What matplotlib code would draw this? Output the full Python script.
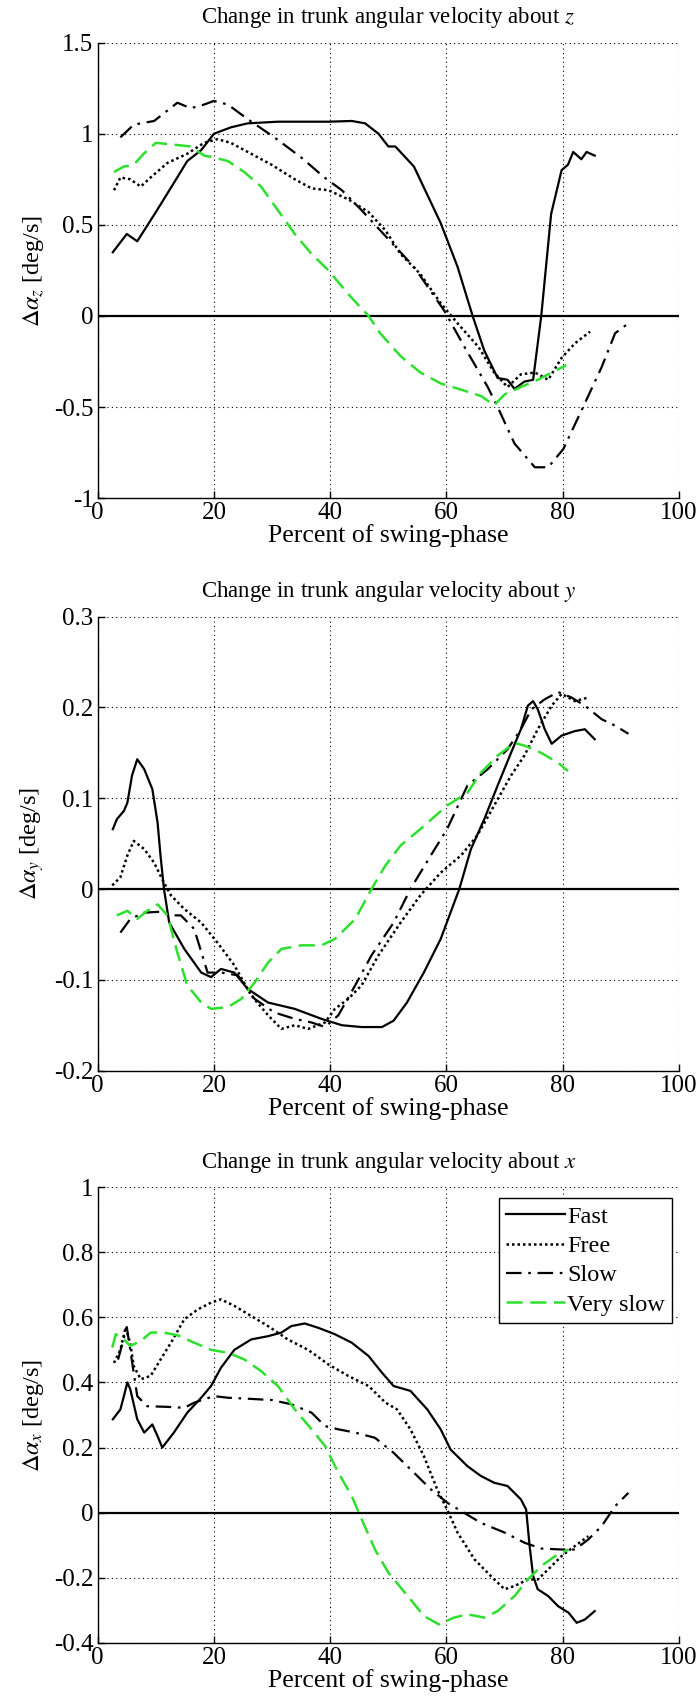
import numpy as np
import matplotlib
matplotlib.use("Agg")
import matplotlib.pyplot as plt
from matplotlib.ticker import FormatStrFormatter

plt.rcParams['font.family'] = ['Liberation Serif', 'DejaVu Serif']
plt.rcParams['mathtext.fontset'] = 'stix'
plt.rcParams['axes.unicode_minus'] = False

GREEN = '#2ee02e'

# ---- trunk angular velocity about z ----
z_fast_x = [2.6, 5.0, 6.8, 10.0, 13.1, 15.4, 17.8, 20.0, 22.9, 25.8, 31.0, 39.7, 43.7, 46.0, 48.3,
            50.0, 51.2, 54.4, 59.0, 61.9, 64.5, 66.5, 68.8, 70.5, 71.7, 73.4, 74.9, 76.3, 78.0,
            79.8, 80.9, 81.8, 83.2, 84.1, 85.5]
z_fast_y = [0.35, 0.45, 0.41, 0.57, 0.73, 0.85, 0.91, 1.00, 1.035, 1.057, 1.066, 1.066, 1.07, 1.057, 1.0,
            0.93, 0.93, 0.82, 0.51, 0.27, 0.0, -0.19, -0.34, -0.35, -0.40, -0.36, -0.35, 0.0, 0.56,
            0.80, 0.83, 0.90, 0.86, 0.90, 0.88]
z_free_x = [2.8, 3.9, 5.6, 7.4, 9.1, 12.0, 15.4, 18.3, 20.6, 22.9, 26.4, 29.9, 33.9, 36.8, 39.7,
            43.1, 46.6, 49.5, 52.1, 55.5, 59.0, 61.9, 65.5, 68.2, 70.5, 72.8, 75.2, 77.5, 79.8,
            82.1, 84.7]
z_free_y = [0.69, 0.76, 0.75, 0.71, 0.76, 0.84, 0.89, 0.95, 0.97, 0.95, 0.89, 0.83, 0.75, 0.70, 0.69,
            0.64, 0.57, 0.47, 0.34, 0.23, 0.07, -0.04, -0.17, -0.31, -0.39, -0.32, -0.31, -0.35, -0.23,
            -0.15, -0.086]
z_slow_x = [3.9, 6.2, 9.7, 13.7, 16.0, 18.3, 20.0, 22.4, 25.8, 30.4, 35.0, 39.0, 42.0, 45.4, 48.3,
            54.4, 59.6, 63.1, 67.1, 68.8, 71.7, 75.2, 77.5, 80.1, 83.2, 86.7, 89.0, 91.3]
z_slow_y = [0.98, 1.05, 1.07, 1.17, 1.14, 1.16, 1.18, 1.16, 1.08, 0.98, 0.87, 0.76, 0.69, 0.58, 0.48,
            0.27, 0.03, -0.17, -0.39, -0.50, -0.70, -0.83, -0.83, -0.73, -0.52, -0.28, -0.095, -0.04]
z_vslow_x = [2.8, 4.5, 6.2, 7.9, 10.0, 13.1, 16.0, 18.3, 20.0, 22.4, 25.2, 28.1, 31.0, 33.9, 36.8,
             39.7, 43.1, 46.6, 48.6, 52.1, 55.5, 59.0, 63.1, 66.0, 68.2, 70.0, 72.8, 75.7, 78.1, 80.6]
z_vslow_y = [0.79, 0.82, 0.83, 0.89, 0.95, 0.94, 0.93, 0.88, 0.87, 0.85, 0.79, 0.71, 0.58, 0.45, 0.34,
             0.25, 0.12, 0.0, -0.095, -0.22, -0.31, -0.37, -0.41, -0.44, -0.49, -0.43, -0.39, -0.35, -0.31, -0.27]

# ---- trunk angular velocity about y ----
y_fast_x = [2.6, 3.3, 4.5, 5.1, 5.9, 6.8, 8.0, 9.4, 10.3, 10.8, 11.4, 12.3, 14.9, 17.8, 19.5, 21.2,
            23.5, 25.8, 29.3, 33.9, 38.5, 42.0, 45.4, 48.9, 50.9, 53.2, 56.1, 59.0, 62.2, 64.2,
            66.5, 68.8, 71.1, 72.8, 74.0, 74.9, 75.7, 76.9, 78.1, 79.8, 82.1, 83.8, 85.5]
y_fast_y = [0.066, 0.077, 0.086, 0.095, 0.125, 0.143, 0.132, 0.110, 0.073, 0.037, 0.0, -0.037, -0.066,
            -0.092, -0.097, -0.088, -0.092, -0.110, -0.125, -0.132, -0.143, -0.150, -0.152, -0.152,
            -0.145, -0.125, -0.092, -0.055, 0.0, 0.044, 0.077, 0.114, 0.150, 0.176, 0.202, 0.207,
            0.198, 0.176, 0.160, 0.169, 0.174, 0.176, 0.165]
y_free_x = [2.5, 3.9, 5.1, 6.2, 8.0, 9.7, 11.4, 12.6, 14.9, 17.8, 20.6, 23.5, 26.4, 29.3, 31.6, 33.9,
            36.2, 39.1, 40.8, 43.1, 45.4, 48.3, 52.1, 55.5, 59.0, 62.5, 65.3, 68.2, 71.1, 73.4,
            75.7, 78.1, 79.8, 82.1, 84.4]
y_free_y = [0.004, 0.013, 0.037, 0.053, 0.044, 0.029, 0.007, -0.007, -0.022, -0.037, -0.059, -0.084,
            -0.117, -0.139, -0.154, -0.150, -0.154, -0.147, -0.132, -0.121, -0.106, -0.073, -0.037,
            -0.007, 0.018, 0.037, 0.059, 0.092, 0.125, 0.147, 0.176, 0.202, 0.215, 0.207, 0.211]
y_slow_x = [3.9, 5.6, 8.0, 10.8, 12.6, 14.3, 16.6, 18.9, 21.2, 24.1, 27.0, 30.4, 33.9, 36.8, 39.1,
            41.4, 44.3, 47.1, 50.9, 53.8, 57.3, 60.1, 63.6, 67.1, 70.5, 72.8, 74.6, 76.9, 79.2,
            81.5, 83.8, 86.7, 89.0, 91.3]
y_slow_y = [-0.048, -0.033, -0.026, -0.025, -0.029, -0.029, -0.044, -0.092, -0.092, -0.095, -0.121,
            -0.136, -0.143, -0.147, -0.152, -0.139, -0.106, -0.073, -0.037, 0.0, 0.037, 0.066, 0.114,
            0.132, 0.154, 0.176, 0.198, 0.209, 0.217, 0.211, 0.202, 0.187, 0.180, 0.171]
y_vslow_x = [3.3, 5.1, 6.8, 8.5, 10.3, 12.0, 13.7, 15.4, 17.8, 19.5, 22.4, 24.7, 27.0, 29.3, 31.6,
             35.0, 38.5, 40.8, 44.3, 47.1, 49.5, 52.1, 55.5, 60.1, 63.6, 65.9, 68.8, 71.7, 73.4,
             76.3, 79.2, 80.9]
y_vslow_y = [-0.029, -0.024, -0.033, -0.024, -0.017, -0.029, -0.070, -0.106, -0.125, -0.132, -0.130,
             -0.121, -0.103, -0.081, -0.066, -0.062, -0.062, -0.055, -0.033, 0.0, 0.026, 0.048, 0.066,
             0.092, 0.106, 0.128, 0.147, 0.161, 0.158, 0.150, 0.139, 0.130]

# ---- trunk angular velocity about x ----
x_fast_x = [2.6, 3.9, 4.5, 5.1, 5.6, 6.8, 8.0, 9.4, 10.3, 11.1, 13.1, 15.4, 17.8, 19.5, 21.2, 23.5,
            26.4, 29.3, 31.6, 33.3, 35.6, 37.9, 40.8, 43.7, 46.6, 48.9, 50.9, 53.8, 56.7, 59.0,
            60.7, 63.6, 65.9, 68.2, 70.5, 72.8, 73.7, 74.3, 74.9, 75.7, 77.5, 79.2, 81.0, 82.4,
            83.8, 85.5]
x_fast_y = [0.287, 0.317, 0.358, 0.40, 0.379, 0.287, 0.246, 0.271, 0.235, 0.20, 0.246, 0.307, 0.353,
            0.389, 0.445, 0.50, 0.532, 0.542, 0.553, 0.573, 0.581, 0.568, 0.548, 0.522, 0.481, 0.430,
            0.389, 0.374, 0.317, 0.256, 0.194, 0.143, 0.113, 0.092, 0.082, 0.041, 0.010, -0.102,
            -0.194, -0.235, -0.256, -0.287, -0.307, -0.338, -0.328, -0.302]
x_free_x = [2.8, 3.9, 4.8, 5.6, 6.2, 7.4, 9.1, 10.8, 12.6, 14.9, 17.2, 19.5, 21.2, 23.5, 26.4, 29.3,
            32.7, 36.2, 39.7, 43.1, 46.6, 49.5, 51.5, 53.8, 56.1, 58.4, 60.1, 61.9, 64.8, 67.6,
            70.0, 71.7, 74.0, 75.7, 77.5, 79.8, 82.1, 84.4]
x_free_y = [0.46, 0.50, 0.57, 0.52, 0.45, 0.41, 0.42, 0.47, 0.522, 0.594, 0.624, 0.645, 0.655, 0.635,
            0.604, 0.573, 0.532, 0.50, 0.455, 0.42, 0.389, 0.338, 0.317, 0.256, 0.174, 0.072, 0.01,
            -0.061, -0.143, -0.194, -0.235, -0.225, -0.205, -0.205, -0.174, -0.133, -0.102, -0.072]
x_slow_x = [3.5, 5.0, 6.8, 8.5, 12.0, 14.9, 16.6, 18.3, 20.0, 22.4, 25.8, 29.9, 33.3, 36.8, 39.1,
            41.4, 44.3, 47.7, 50.9, 54.4, 57.3, 60.1, 63.0, 65.9, 70.0, 73.4, 76.3, 79.8, 82.1,
            84.4, 86.7, 89.0, 91.3]
x_slow_y = [0.47, 0.57, 0.358, 0.327, 0.325, 0.322, 0.338, 0.348, 0.358, 0.353, 0.35, 0.346, 0.333,
            0.307, 0.266, 0.256, 0.246, 0.23, 0.184, 0.123, 0.072, 0.031, 0.0, -0.031, -0.061,
            -0.092, -0.11, -0.113, -0.113, -0.082, -0.041, 0.02, 0.061]
x_vslow_x = [2.5, 3.1, 4.5, 5.6, 7.4, 9.1, 11.4, 13.7, 16.6, 19.5, 22.4, 25.2, 28.1, 31.0, 33.9,
             36.8, 39.1, 41.4, 43.7, 45.4, 47.7, 50.0, 53.8, 56.1, 58.7, 61.3, 63.6, 66.5, 68.8,
             71.7, 74.0, 76.3, 78.7, 81.0]
x_vslow_y = [0.507, 0.548, 0.532, 0.512, 0.527, 0.553, 0.553, 0.545, 0.522, 0.50, 0.491, 0.471,
             0.435, 0.389, 0.317, 0.256, 0.205, 0.123, 0.051, -0.02, -0.113, -0.184, -0.266, -0.317,
             -0.343, -0.322, -0.312, -0.322, -0.302, -0.256, -0.205, -0.164, -0.133, -0.113]

labels = ['Fast', 'Free', 'Slow', 'Very slow']
styles = [dict(color='k', ls='-', lw=1.6),
          dict(color='k', ls=(0, (1, 1.2)), lw=1.8),
          dict(color='k', ls=(0, (7, 3, 1.2, 3)), lw=1.6),
          dict(color=GREEN, ls=(0, (6.5, 3)), lw=1.8)]

panels = [
    dict(title='Change in trunk angular velocity about $z$', ylab=r'$\Delta\alpha_z$ [deg/s]',
         yticks=[-1, -0.5, 0, 0.5, 1, 1.5],
         series=[(z_fast_x, z_fast_y), (z_free_x, z_free_y), (z_slow_x, z_slow_y), (z_vslow_x, z_vslow_y)],
         rect=[0.1398, 0.7076, 0.8316, 0.2674]),
    dict(title='Change in trunk angular velocity about $y$', ylab=r'$\Delta\alpha_y$ [deg/s]',
         yticks=[-0.2, -0.1, 0, 0.1, 0.2, 0.3],
         series=[(y_fast_x, y_fast_y), (y_free_x, y_free_y), (y_slow_x, y_slow_y), (y_vslow_x, y_vslow_y)],
         rect=[0.1398, 0.3717, 0.8316, 0.2664]),
    dict(title='Change in trunk angular velocity about $x$', ylab=r'$\Delta\alpha_x$ [deg/s]',
         yticks=[-0.4, -0.2, 0, 0.2, 0.4, 0.6, 0.8, 1],
         series=[(x_fast_x, x_fast_y), (x_free_x, x_free_y), (x_slow_x, x_slow_y), (x_vslow_x, x_vslow_y)],
         rect=[0.1398, 0.0358, 0.8316, 0.2676]),
]

fig = plt.figure(figsize=(6.99, 17.04), dpi=100)

for i, p in enumerate(panels):
    ax = fig.add_axes(p['rect'])
    ax.axhline(0, color='k', lw=1.6, zorder=2)
    for (xs, ys), st, lab in zip(p['series'], styles, labels):
        ax.plot(xs, ys, label=lab, zorder=3, **st)
    ax.set_xlim(0, 100)
    ax.set_ylim(p['yticks'][0], p['yticks'][-1])
    ax.set_xticks([0, 20, 40, 60, 80, 100])
    ax.set_yticks(p['yticks'])
    ax.yaxis.set_major_formatter(FormatStrFormatter('%g'))
    ax.grid(True, color='k', ls=(0, (1, 3)), lw=0.8)
    ax.spines['top'].set_visible(False)
    ax.spines['right'].set_visible(False)
    ax.spines['left'].set_linewidth(1.0)
    ax.spines['bottom'].set_linewidth(1.0)
    ax.tick_params(direction='in', length=5, width=1.0, labelsize=18, pad=3)
    ax.set_title(p['title'], fontsize=16.5, pad=14)
    ax.set_xlabel('Percent of swing-phase', fontsize=18.5, labelpad=0)
    ax.set_ylabel(p['ylab'], fontsize=17.5, labelpad=6)
    if i == 2:
        leg = ax.legend(loc='upper right', bbox_to_anchor=(0.988, 0.975), fontsize=17.5,
                        handlelength=2.4, handletextpad=0.1, labelspacing=0.3,
                        borderpad=0.3, borderaxespad=0.0, fancybox=False, framealpha=1)
        leg.get_frame().set_edgecolor('k')
        leg.get_frame().set_linewidth(1.0)

fig.savefig('out.png', dpi=100)
